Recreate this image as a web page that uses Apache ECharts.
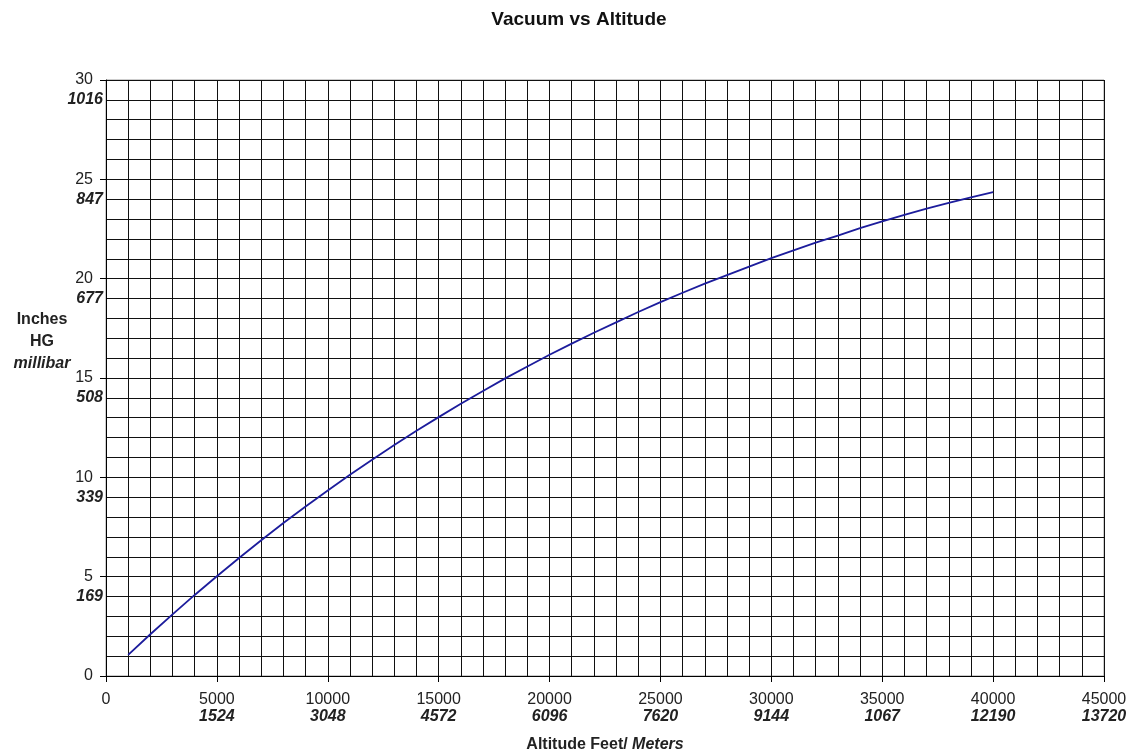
<!DOCTYPE html>
<html>
<head>
<meta charset="utf-8">
<title>Vacuum vs Altitude</title>
<script src="https://cdn.jsdelivr.net/npm/echarts@6/dist/echarts.min.js"></script>
<style>
  html, body { margin: 0; padding: 0; background: #fff; }
  #main { width: 1130px; height: 752px; }
</style>
</head>
<body>
<div id="main"></div>
<script>
// altitude in feet
var altitudeFeet = [1000, 2000, 3000, 4000, 5000, 6000, 7000, 8000, 9000, 10000,
  11000, 12000, 13000, 14000, 15000, 16000, 17000, 18000, 19000, 20000,
  21000, 22000, 23000, 24000, 25000, 26000, 27000, 28000, 29000, 30000,
  31000, 32000, 33000, 34000, 35000, 36000, 37000, 38000, 39000, 40000];
// vacuum, inches HG
var vacuumInHg = [1.06, 2.10, 3.10, 4.08, 5.02, 5.94, 6.83, 7.70, 8.53, 9.34,
  10.13, 10.89, 11.63, 12.35, 13.03, 13.70, 14.35, 14.98, 15.58, 16.17,
  16.73, 17.28, 17.80, 18.32, 18.82, 19.29, 19.75, 20.18, 20.61, 21.03,
  21.42, 21.81, 22.17, 22.54, 22.88, 23.21, 23.52, 23.81, 24.09, 24.36];

// x tick labels: feet / meters
var xFeetTicks = [0, 5000, 10000, 15000, 20000, 25000, 30000, 35000, 40000, 45000];
var xMeterLabels = ['', '1524', '3048', '4572', '6096', '7620', '9144', '1067', '12190', '13720'];

// y tick labels: inches and millibar (millibar sits one grid line below)
var yInchTicks = [0, 5, 10, 15, 20, 25, 30];
var yMillibarTicks = [4, 9, 14, 19, 24, 29];
var yMillibarLabels = ['169', '339', '508', '677', '847', '1016'];

var chart = echarts.init(document.getElementById('main'));

var font = 'Liberation Sans, Arial, sans-serif';
var gridColor = '#111';

var seriesData = altitudeFeet.map(function (a, i) {
  return [a, vacuumInHg[i]];
});

var option = {
  backgroundColor: '#fff',
  animation: false,
  title: {
    text: 'Vacuum vs Altitude',
    left: 574,
    textAlign: 'center',
    top: 5,
    textStyle: { fontFamily: font, fontSize: 19, fontWeight: 'bold', color: '#111' }
  },
  grid: {
    left: 106, right: 26, top: 80, bottom: 76,
    outerBoundsMode: 'none',
    show: true, borderColor: '#9a9a9a', borderWidth: 1
  },
  graphic: [{
    type: 'text',
    x: 42,
    y: 342,
    style: {
      text: 'Inches\nHG\n{i|millibar}',
      align: 'center',
      verticalAlign: 'middle',
      fontFamily: font,
      fontSize: 16,
      fontWeight: 'bold',
      lineHeight: 22,
      fill: '#222',
      rich: {
        i: { fontFamily: font, fontSize: 16, fontWeight: 'bold', fontStyle: 'italic', fill: '#222', lineHeight: 22 }
      }
    }
  }],
  xAxis: {
    type: 'value',
    min: 0,
    max: 45000,
    interval: 5000,
    name: 'Altitude Feet/ {i|Meters}',
    nameLocation: 'middle',
    nameGap: 61,
    nameTextStyle: {
      fontFamily: font, fontSize: 16, fontWeight: 'bold', color: '#222',
      rich: { i: { fontFamily: font, fontSize: 16, fontWeight: 'bold', fontStyle: 'italic', color: '#222' } }
    },
    axisLine: { show: true, lineStyle: { color: '#000', width: 1 } },
    axisTick: { show: true, length: 6, lineStyle: { color: '#000' } },
    splitLine: { show: true, lineStyle: { color: gridColor, width: 1 } },
    minorTick: { show: false, splitNumber: 5 },
    minorSplitLine: { show: true, lineStyle: { color: gridColor, width: 1 } },
    axisLabel: {
      margin: 15,
      fontFamily: font,
      fontSize: 16,
      color: '#222',
      lineHeight: 17,
      formatter: function (v) {
        var m = xMeterLabels[xFeetTicks.indexOf(v)];
        return m ? v + '\n{m|' + m + '}' : String(v);
      },
      rich: {
        m: { fontFamily: font, fontSize: 16, fontWeight: 'bold', fontStyle: 'italic', color: '#222', lineHeight: 17 }
      }
    }
  },
  yAxis: {
    type: 'value',
    min: 0,
    max: 30,
    interval: 5,
    axisLine: { show: true, lineStyle: { color: '#000', width: 1 } },
    axisTick: { show: true, length: 6, lineStyle: { color: '#000' } },
    splitLine: { show: true, lineStyle: { color: gridColor, width: 1 } },
    minorTick: { show: false, splitNumber: 5 },
    minorSplitLine: { show: true, lineStyle: { color: gridColor, width: 1 } },
    axisLabel: {
      customValues: yInchTicks.concat(yMillibarTicks),
      margin: 3,
      fontFamily: font,
      fontSize: 16,
      color: '#222',
      formatter: function (v) {
        var k = yMillibarTicks.indexOf(v);
        if (k >= 0) return '{m|' + yMillibarLabels[k] + '}';
        return '{a|' + v + '}';
      },
      rich: {
        a: { fontFamily: font, fontSize: 16, color: '#222', padding: [0, 10, 0, 0] },
        m: { fontFamily: font, fontSize: 16, fontWeight: 'bold', fontStyle: 'italic', color: '#222' }
      }
    }
  },
  series: [{
    type: 'line',
    data: seriesData,
    symbol: 'none',
    smooth: false,
    lineStyle: { color: '#1c1c9c', width: 1.8 }
  }]
};

chart.setOption(option);
</script>
</body>
</html>
